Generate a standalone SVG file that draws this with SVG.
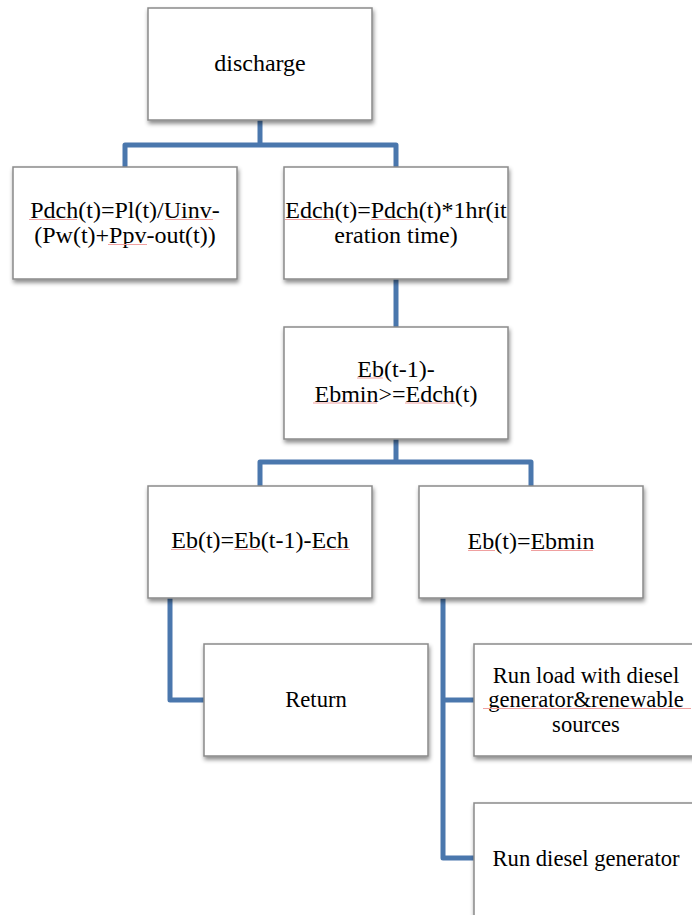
<svg xmlns="http://www.w3.org/2000/svg" width="692" height="915" viewBox="0 0 692 915">
  <defs>
    <filter id="shadow" x="-10%" y="-10%" width="125%" height="130%">
      <feDropShadow dx="1" dy="3" stdDeviation="2" flood-color="#000" flood-opacity="0.45"/>
    </filter>
    <style>
      .box { fill: #ffffff; stroke: #8a8a8a; stroke-width: 1.5; filter: url(#shadow); }
      .lbl { font-family: 'Liberation Serif', Tinos, 'Times New Roman', 'DejaVu Serif', serif; font-size: 24px; fill: #000; text-anchor: middle; }
      .sm { font-size: 22.6px; }
      .link { fill: none; stroke: #4a77ad; stroke-width: 5; stroke-linejoin: round; }
      .spell { stroke: #f0a0a0; stroke-width: 1; fill: none; }
    </style>
  </defs>
  <rect width="692" height="915" fill="#ffffff"/>

  <!-- connectors -->
  <g id="connectors">
    <path class="link" d="M260,120 V145"/>
    <path class="link" d="M125,167 V145 H396 V167"/>
    <path class="link" d="M396,279 V327"/>
    <path class="link" d="M396,439 V462"/>
    <path class="link" d="M260,486 V462 H531 V486"/>
    <path class="link" d="M170,598 V700 H204"/>
    <path class="link" d="M443,598 V858 H474"/>
    <path class="link" d="M443,700 H474"/>
  </g>

  <g id="n-discharge">
    <rect class="box" x="148" y="8" width="224" height="112"/>
    <text class="lbl" x="260" y="71">discharge</text>
  </g>

  <g id="n-pdch">
    <rect class="box" x="13" y="167" width="224" height="112"/>
    <text class="lbl" x="125" y="218">Pdch(t)=Pl(t)/Uinv-</text>
    <text class="lbl" x="125" y="243">(Pw(t)+Ppv-out(t))</text>
    <path class="spell" d="M29,219.5 H77 M165,219.5 H213 M108,244.5 H147"/>
  </g>

  <g id="n-edch">
    <rect class="box" x="284" y="167" width="224" height="112"/>
    <text class="lbl" x="396" y="218">Edch(t)=Pdch(t)*1hr(it</text>
    <text class="lbl" x="396" y="243">eration time)</text>
    <path class="spell" d="M285,219.5 H334 M371,219.5 H419"/>
  </g>

  <g id="n-check">
    <rect class="box" x="284" y="327" width="224" height="112"/>
    <text class="lbl" x="396" y="377">Eb(t-1)-</text>
    <text class="lbl" x="396" y="402">Ebmin&gt;=Edch(t)</text>
    <path class="spell" d="M357,378 H383 M313,403 H377 M405,403 H455"/>
  </g>

  <g id="n-update">
    <rect class="box" x="148" y="486" width="224" height="112"/>
    <text class="lbl" x="260" y="548">Eb(t)=Eb(t-1)-Ech</text>
    <path class="spell" d="M171,549.5 H197 M234,549.5 H261 M313,549.5 H350"/>
  </g>

  <g id="n-min">
    <rect class="box" x="419" y="486" width="224" height="112"/>
    <text class="lbl" x="531" y="549">Eb(t)=Ebmin</text>
    <path class="spell" d="M468,550.5 H495 M531,550.5 H593"/>
  </g>

  <g id="n-return">
    <rect class="box" x="204" y="644" width="224" height="112"/>
    <text class="lbl sm" x="316" y="707">Return</text>
  </g>

  <g id="n-runload">
    <rect class="box" x="474" y="644" width="224" height="112"/>
    <text class="lbl sm" x="586" y="683">Run load with diesel</text>
    <text class="lbl sm" x="586" y="707">generator&amp;renewable</text>
    <text class="lbl sm" x="586" y="732">sources</text>
    <path class="spell" d="M483,708.5 H691"/>
  </g>

  <g id="n-rundiesel">
    <rect class="box" x="474" y="803" width="224" height="120"/>
    <text class="lbl sm" x="586" y="866">Run diesel generator</text>
  </g>
</svg>
